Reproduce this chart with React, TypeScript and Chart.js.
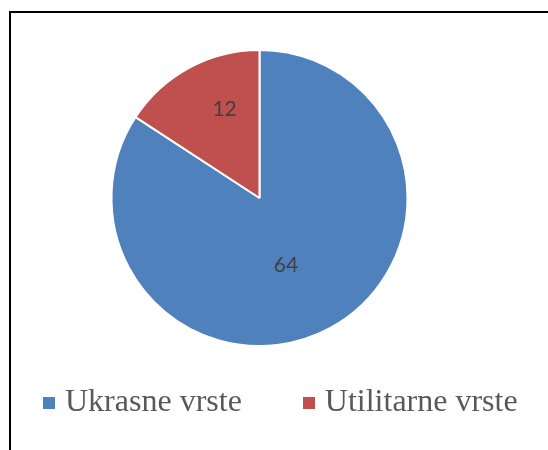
import React, { useEffect, useRef } from "react";
import { Chart, registerables } from "chart.js";

Chart.register(...registerables);

const categories: string[] = ["Ukrasne vrste", "Utilitarne vrste"];
const values: number[] = [64, 12];
const colors: string[] = ["#4F81BD", "#C0504D"];

const labelPlugin = {
  id: "sliceLabels",
  afterDatasetsDraw(chart: any) {
    const ctx = chart.ctx;
    const meta = chart.getDatasetMeta(0);
    ctx.save();
    ctx.font = "21px Lato, 'Liberation Sans', sans-serif";
    ctx.fillStyle = "#404040";
    ctx.textAlign = "center";
    ctx.textBaseline = "middle";
    meta.data.forEach((arc: any, i: number) => {
      const p = arc.getProps(["x", "y", "startAngle", "endAngle", "outerRadius"], true);
      const share = values[i] / values.reduce((a, b) => a + b, 0);
      const mid = (p.startAngle + p.endAngle) / 2 + (7 * Math.PI) / 180;
      const r = p.outerRadius * (0.46 + 0.22 * (1 - share) * (share < 0.5 ? 1 : 0) + (share >= 0.5 ? 0.03 : 0));
      ctx.fillText(String(values[i]), p.x + Math.cos(mid) * r, p.y + Math.sin(mid) * r);
    });
    ctx.restore();
  },
};

export default function App() {
  const ref = useRef<HTMLCanvasElement | null>(null);
  useEffect(() => {
    if (!ref.current) return;
    const chart = new Chart(ref.current, {
      type: "pie",
      data: {
        labels: categories,
        datasets: [
          {
            data: values,
            backgroundColor: colors,
            borderColor: "#FFFFFF",
            borderWidth: 2,
          },
        ],
      },
      options: {
        responsive: false,
        animation: false,
        layout: { padding: { left: 110, right: 139, top: 49, bottom: 103 } },
        plugins: { legend: { display: false }, tooltip: { enabled: false } },
      },
      plugins: [labelPlugin],
    });
    return () => chart.destroy();
  }, []);

  return (
    <div style={{ position: "fixed", left: 0, top: 0, width: 548, height: 450, background: "#fff", overflow: "hidden" }}>
      <div
        style={{
          position: "absolute",
          left: 9,
          top: 11,
          width: 600,
          height: 500,
          borderLeft: "2px solid #000",
          borderTop: "2px solid #000",
        }}
      />
      <canvas ref={ref} width={548} height={450} style={{ position: "absolute", left: 0, top: 0 }} />
      <div
        style={{
          position: "absolute",
          left: 43,
          top: 384,
          display: "flex",
          alignItems: "center",
          fontFamily: "'Liberation Serif', 'Times New Roman', serif",
          fontSize: 32,
          lineHeight: "32px",
          color: "#595959",
          whiteSpace: "nowrap",
        }}
      >
        {categories.map((c, i) => (
          <div key={c} style={{ display: "flex", alignItems: "center", marginLeft: i === 0 ? 0 : 61 }}>
            <span style={{ display: "inline-block", width: 12, height: 12, background: colors[i], marginRight: 10, marginTop: 6 }} />
            <span>{c}</span>
          </div>
        ))}
      </div>
    </div>
  );
}
